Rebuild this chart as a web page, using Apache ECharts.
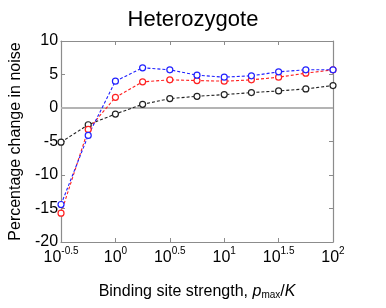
<!DOCTYPE html>
<html><head><meta charset="utf-8">
<script src="https://cdn.jsdelivr.net/npm/echarts@6/dist/echarts.min.js"></script>
<style>html,body{margin:0;padding:0;background:#fff}#c{width:386px;height:308px}</style>
</head><body><div id="c"></div>
<script>
var xExp = [-0.5, -0.25, 0, 0.25, 0.5, 0.75, 1, 1.25, 1.5, 1.75, 2];
var blue = [-14.4, -4.1, 4.0, 6.0, 5.7, 4.9, 4.6, 4.8, 5.4, 5.7, 5.7];
var red = [-15.7, -3.2, 1.6, 3.9, 4.2, 4.1, 4.0, 4.2, 4.6, 5.2, 5.7];
var black = [-5.1, -2.5, -0.9, 0.55, 1.4, 1.75, 2.0, 2.3, 2.55, 2.85, 3.35];
var xTicks = [-0.5, 0, 0.5, 1, 1.5, 2];
var yTicks = [-20, -15, -10, -5, 0, 5, 10];

function pts(v){ return xExp.map(function(x,i){ return [x, v[i]]; }); }
var font = 'Liberation Sans, Arial, sans-serif';
var axisGray = '#8c8c8c';
function mk(name, data, color){
  return {name:name, type:'line', data:pts(data), symbol:'circle', symbolSize:6,
    itemStyle:{color:'#fff', borderColor:color, borderWidth:1.2},
    lineStyle:{color:color, width:1.1, type:[3,2]}, z:3, animation:false};
}
var series = [mk('black', black, '#222'), mk('red', red, '#ff2020'), mk('blue', blue, '#2020ff')];
series.push({type:'line', data:[[xTicks[0],0],[xTicks[xTicks.length-1],0]], symbol:'none',
  lineStyle:{color:'#b4b4b4', width:2}, z:1, animation:false, silent:true});

var chart = echarts.init(document.getElementById('c'));
chart.setOption({
  animation:false,
  title:{text:'Heterozygote', left:'center', top:4, textStyle:{fontFamily:font, fontSize:22, fontWeight:'normal', color:'#000'}},
  grid:{left:59, right:53, top:41, bottom:66},
  xAxis:[{type:'value', min:xTicks[0], max:xTicks[xTicks.length-1], interval:0.5,
    axisLine:{onZero:false, lineStyle:{color:axisGray, width:1.2}},
    axisTick:{inside:true, length:4, lineStyle:{color:axisGray}},
    splitLine:{show:false},
    axisLabel:{margin:4, color:'#000', fontFamily:font, fontSize:16,
      formatter:function(v){ var e = Math.round(v*10)/10; return '{b|10}{s|'+e+'}'; },
      rich:{b:{fontFamily:font, fontSize:16, color:'#000', lineHeight:20, verticalAlign:'bottom'},
            s:{fontFamily:font, fontSize:10, color:'#000', lineHeight:20, verticalAlign:'top'}}},
    name:'{n|Binding site strength, }{i|p}{sub|max}{n|/}{i|K}', nameLocation:'middle', nameGap:40,
    nameTextStyle:{rich:{n:{fontFamily:font, fontSize:16, color:'#000', lineHeight:18, verticalAlign:'bottom'},
      i:{fontFamily:font, fontSize:16, fontStyle:'italic', color:'#000', lineHeight:18, verticalAlign:'bottom'},
      sub:{fontFamily:font, fontSize:10, color:'#000', lineHeight:10, verticalAlign:'bottom'}}}},
    {type:'value', position:'top', min:xTicks[0], max:xTicks[xTicks.length-1], interval:0.5,
    axisLine:{onZero:false, lineStyle:{color:axisGray, width:1.2}}, axisTick:{inside:true, length:4, lineStyle:{color:axisGray}},
    axisLabel:{show:false}, splitLine:{show:false}}],
  yAxis:[{type:'value', min:yTicks[0], max:yTicks[yTicks.length-1], interval:5,
    axisLine:{show:true, onZero:false, lineStyle:{color:axisGray, width:1.2}},
    axisTick:{show:true, inside:true, length:4, lineStyle:{color:axisGray}},
    splitLine:{show:false},
    axisLabel:{margin:3, color:'#000', fontFamily:font, fontSize:16},
    name:'Percentage change in noise', nameLocation:'middle', nameGap:34,
    nameTextStyle:{fontFamily:font, fontSize:16, color:'#000'}},
    {type:'value', position:'right', min:yTicks[0], max:yTicks[yTicks.length-1], interval:5,
    axisLine:{show:true, onZero:false, lineStyle:{color:axisGray, width:1.2}},
    axisTick:{show:true, inside:true, length:4, lineStyle:{color:axisGray}},
    axisLabel:{show:false}, splitLine:{show:false}}],
  series:series
});
</script></body></html>
